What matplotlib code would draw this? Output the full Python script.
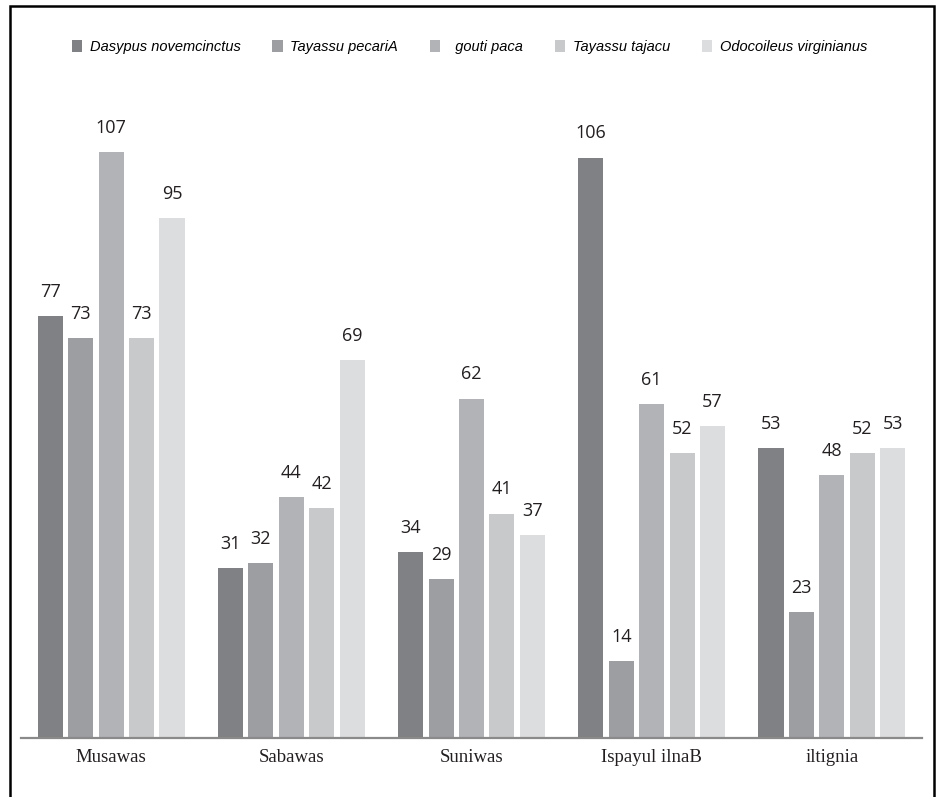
import matplotlib
matplotlib.use('Agg')
import numpy as np
import matplotlib.pyplot as plt
from matplotlib.patches import Patch, Rectangle

# data
sites = ['Musawas', 'Sabawas', 'Suniwas', 'Ispayul ilnaB', 'iltignia']
species = ['Dasypus novemcinctus', 'Tayassu pecariA', '  gouti paca',
           'Tayassu tajacu', 'Odocoileus virginianus']
dasypus = [77, 31, 34, 106, 53]
pecari = [73, 32, 29, 14, 23]
paca = [107, 44, 62, 61, 48]
tajacu = [73, 42, 41, 52, 52]
odocoileus = [95, 69, 37, 57, 53]
colors = ['#808184', '#9d9ea1', '#b1b3b6', '#c8c9cb', '#dcdddf']

series = [dasypus, pecari, paca, tajacu, odocoileus]

fig = plt.figure(figsize=(9.39, 7.97), dpi=100)
ax = fig.add_axes([21/939, 59/797, 901/939, 657/797])

x = np.arange(len(sites))
w = 0.139
step = 0.169
for i, (vals, c) in enumerate(zip(series, colors)):
    pos = x + (i - 2) * step
    bars = ax.bar(pos, vals, width=w, color=c, zorder=2)
    for b, v in zip(bars, vals):
        ax.annotate(str(v), (b.get_x() + b.get_width()/2, v),
                    xytext=(0, 11), textcoords='offset points',
                    ha='center', va='bottom', fontsize=13,
                    family=['Open Sans', 'DejaVu Sans'], color='#231f20')

ax.set_xlim(-0.5, 4.5)
ax.set_ylim(0, 120)
ax.set_yticks([])
ax.set_xticks(x)
ax.set_xticklabels(sites, family='Liberation Serif', fontsize=13.5, color='#231f20')
ax.tick_params(axis='x', length=0, pad=8)
for s in ['top', 'left', 'right']:
    ax.spines[s].set_visible(False)
ax.spines['bottom'].set_color('#8a8a8a')
ax.spines['bottom'].set_linewidth(1.6)

handles = [Patch(facecolor=c, label=s) for c, s in zip(colors, species)]
fig.legend(handles=handles, loc='center', bbox_to_anchor=(0.5, 0.941), ncol=5,
           frameon=False, prop={'family': 'Liberation Sans', 'style': 'italic', 'size': 10.5},
           handlelength=0.7, handleheight=0.9, handletextpad=0.5, columnspacing=2.2)

frame = Rectangle((9.5/939, -0.05), (934 - 9.5)/939, 0.9925 + 0.05,
                  transform=fig.transFigure, fill=False, edgecolor='black',
                  linewidth=1.8, clip_on=False)
fig.patches.append(frame)

fig.savefig('out.png', dpi=100)
